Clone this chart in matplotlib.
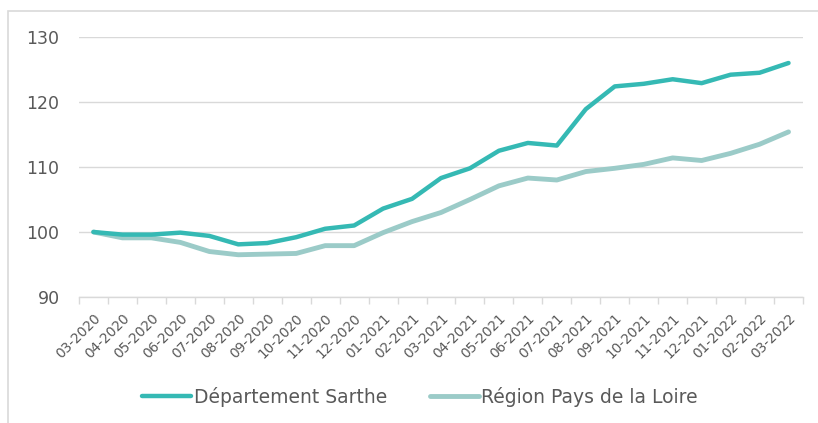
import matplotlib.pyplot as plt
from matplotlib.patches import Rectangle

months = ["03-2020", "04-2020", "05-2020", "06-2020", "07-2020", "08-2020",
          "09-2020", "10-2020", "11-2020", "12-2020", "01-2021", "02-2021",
          "03-2021", "04-2021", "05-2021", "06-2021", "07-2021", "08-2021",
          "09-2021", "10-2021", "11-2021", "12-2021", "01-2022", "02-2022",
          "03-2022"]
sarthe = [100.0, 99.6, 99.6, 99.9, 99.4, 98.1, 98.3, 99.2, 100.5, 101.0,
          103.6, 105.1, 108.3, 109.8, 112.5, 113.7, 113.3, 118.9, 122.4,
          122.8, 123.5, 122.9, 124.2, 124.5, 126.0]
region = [100.0, 99.1, 99.1, 98.4, 97.0, 96.5, 96.6, 96.7, 97.9, 97.9,
          99.9, 101.6, 103.0, 105.0, 107.1, 108.3, 108.0, 109.3, 109.8,
          110.4, 111.4, 111.0, 112.1, 113.5, 115.4]

W, H = 818, 423
fig = plt.figure(figsize=(W / 100, H / 100), dpi=100)
ax = fig.add_axes([79 / W, 1 - 297 / H, 724 / W, 260 / H])

grey = "#D9D9D9"
txt = "#595959"
x = range(len(months))

ax.plot(x, sarthe, color="#35B9B4", lw=3.2, solid_capstyle="round",
        solid_joinstyle="round", label="Département Sarthe", zorder=3)
ax.plot(x, region, color="#9BCBC8", lw=3.5, solid_capstyle="round",
        solid_joinstyle="round", label="Région Pays de la Loire", zorder=2)

ax.set_xlim(-0.5, len(months) - 0.5)
ax.set_ylim(90, 130)
ax.set_yticks([90, 100, 110, 120, 130])
ax.yaxis.grid(True, color=grey, lw=1)
ax.set_axisbelow(True)

for s in ["top", "right", "left"]:
    ax.spines[s].set_visible(False)
ax.spines["bottom"].set_color(grey)
ax.spines["bottom"].set_linewidth(1)

ax.set_xticks(list(x))
ax.set_xticklabels(months, rotation=45, ha="right", va="top",
                   rotation_mode="anchor", fontsize=9.8, color=txt)
ax.set_xticks([i - 0.5 for i in range(len(months) + 1)], minor=True)
ax.tick_params(axis="x", which="major", length=0, pad=10)
ax.tick_params(axis="x", which="minor", length=5, color=grey, width=1)
ax.tick_params(axis="y", length=0, pad=14, labelsize=12.5, labelcolor=txt)

fig.legend(loc="center", bbox_to_anchor=(420 / W, 1 - 397 / H), ncol=2,
           frameon=False, fontsize=13.5, handlelength=2.6, handletextpad=0.15,
           columnspacing=2.3, labelcolor=txt)

fig.patches.append(Rectangle((8 / W, -0.2), 1.2, 1.2 - 11 / H, fill=False,
                             edgecolor=grey, lw=1.2, transform=fig.transFigure))

fig.savefig("out.png", dpi=100)
